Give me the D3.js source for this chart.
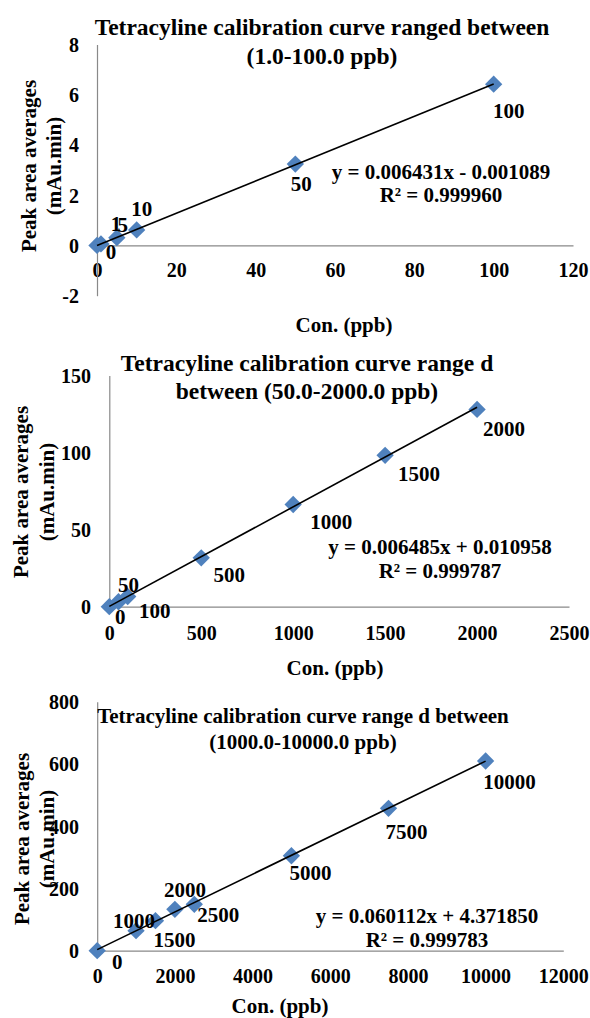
<!DOCTYPE html>
<html>
<head>
<meta charset="utf-8">
<script src="https://cdn.jsdelivr.net/npm/d3@7"></script>
<style>
  html, body { margin: 0; padding: 0; background: #fff; }
  svg { display: block; }
  text { font-family: "Liberation Serif", "Times New Roman", serif; font-weight: bold; fill: #000; }
</style>
</head>
<body>
<svg id="chart" width="590" height="1018"></svg>
<script>
// ---------- Data ----------
const yAxisTitle1 = "Peak area averages";
const yAxisTitle2 = "(mAu.min)";
const xAxisTitle = "Con. (ppb)";

// Chart 1
const c1Title = ["Tetracyline calibration curve ranged between", "(1.0-100.0 ppb)"];
const c1Conc = [0, 1, 5, 10, 50, 100];
const c1Area = [0, 0.06, 0.31, 0.62, 3.24, 6.42];
const c1Labels = ["0", "1", "5", "10", "50", "100"];
const c1XTicks = [0, 20, 40, 60, 80, 100, 120];
const c1YTicks = [-2, 0, 2, 4, 6, 8];
const c1Equation = ["y = 0.006431x - 0.001089", "R² = 0.999960"];

// Chart 2
const c2Title = ["Tetracyline calibration curve range d", "between (50.0-2000.0 ppb)"];
const c2Conc = [0, 50, 100, 500, 1000, 1500, 2000];
const c2Area = [0, 3.2, 6.6, 31.7, 66.3, 98.2, 128.0];
const c2Labels = ["0", "50", "100", "500", "1000", "1500", "2000"];
const c2XTicks = [0, 500, 1000, 1500, 2000, 2500];
const c2YTicks = [0, 50, 100, 150];
const c2Equation = ["y = 0.006485x + 0.010958", "R² = 0.999787"];

// Chart 3
const c3Title = ["Tetracyline calibration curve range d between", "(1000.0-10000.0 ppb)"];
const c3Conc = [0, 1000, 1500, 2000, 2500, 5000, 7500, 10000];
const c3Area = [0, 64.3, 96.4, 133, 149, 305, 457.5, 609.5];
const c3Labels = ["0", "1000", "1500", "2000", "2500", "5000", "7500", "10000"];
const c3XTicks = [0, 2000, 4000, 6000, 8000, 10000, 12000];
const c3YTicks = [0, 200, 400, 600, 800];
const c3Equation = ["y = 0.060112x + 4.371850", "R² = 0.999783"];

// ---------- Layout (positions / styles) ----------
const layouts = [
  {
    xDomain: [0, 120], xRange: [97, 573],
    yDomain: [-2, 8], yRange: [295.7, 44.5],
    title: { x: 322, y: [27, 56], size: 23.5 },
    eq: { x: 441, y: [172, 195] },
    yTitle: { x: [28.5, 53.5], y: 166 },
    xTitle: { x: 344, y: 325 },
    yTickRight: 79, xTickY: 270,
    labelOffsets: [[14, 6], [15, -20], [6, -13], [5, -21], [6, 20], [15, 26]]
  },
  {
    xDomain: [0, 2500], xRange: [109.3, 569],
    yDomain: [0, 150], yRange: [606.7, 375.5],
    title: { x: 307, y: [363, 391], size: 23.5 },
    eq: { x: 440, y: [547, 571] },
    yTitle: { x: [20.7, 47], y: 492 },
    xTitle: { x: 335, y: 668 },
    yTickRight: 91, xTickY: 633,
    labelOffsets: [[11, 10], [10, -17], [27, 14], [28, 17], [38, 17], [34, 18], [27, 19]]
  },
  {
    xDomain: [0, 12000], xRange: [97.2, 563.3],
    yDomain: [0, 800], yRange: [950.7, 701.7],
    title: { x: 303, y: [716, 742], size: 21 },
    eq: { x: 427, y: [916, 940] },
    yTitle: { x: [21.7, 46.7], y: 839 },
    xTitle: { x: 280, y: 1006 },
    yTickRight: 79, xTickY: 976,
    labelOffsets: [[20, 11], [-2, -10], [19, 19], [10, -20], [24, 10], [19, 17], [18, 23], [24, 21]]
  }
];

const charts = [
  { title: c1Title, conc: c1Conc, area: c1Area, labels: c1Labels, xTicks: c1XTicks, yTicks: c1YTicks, eq: c1Equation },
  { title: c2Title, conc: c2Conc, area: c2Area, labels: c2Labels, xTicks: c2XTicks, yTicks: c2YTicks, eq: c2Equation },
  { title: c3Title, conc: c3Conc, area: c3Area, labels: c3Labels, xTicks: c3XTicks, yTicks: c3YTicks, eq: c3Equation }
];

const svg = d3.select("#chart");
const axisColor = "#898989";
const markerColor = "#4F81BD";
const tickSize = 20, labelSize = 21, axisTitleSize = 21, eqSize = 21;
const plainFormat = d => String(d);

function linReg(xs, ys) {
  const mx = d3.mean(xs), my = d3.mean(ys);
  let num = 0, den = 0;
  xs.forEach((x, i) => { num += (x - mx) * (ys[i] - my); den += (x - mx) * (x - mx); });
  const m = num / den;
  return { m, b: my - m * mx };
}

charts.forEach((c, i) => {
  const L = layouts[i];
  const g = svg.append("g");
  const x = d3.scaleLinear().domain(L.xDomain).range(L.xRange);
  const y = d3.scaleLinear().domain(L.yDomain).range(L.yRange);

  // axes (Excel style: line only, no tick marks)
  const xAxis = d3.axisBottom(x).tickValues(c.xTicks).tickSize(0).tickPadding(0).tickFormat(plainFormat);
  const xg = g.append("g").attr("transform", `translate(0,${y(0)})`).call(xAxis);
  xg.select(".domain").attr("stroke", axisColor).attr("stroke-width", 1.2);
  xg.selectAll(".tick text")
    .attr("y", L.xTickY - y(0)).attr("dy", "0.35em")
    .style("font-size", tickSize + "px");

  const yAxis = d3.axisLeft(y).tickValues(c.yTicks).tickSize(0).tickPadding(0).tickFormat(plainFormat);
  const yg = g.append("g").attr("transform", `translate(${x(0)},0)`).call(yAxis);
  yg.select(".domain").attr("stroke", axisColor).attr("stroke-width", 1.2);
  yg.selectAll(".tick text")
    .attr("x", L.yTickRight - x(0)).attr("dy", "0.35em")
    .style("font-size", tickSize + "px");
  g.selectAll("g").attr("font-family", null).attr("font-size", null);
  g.selectAll(".tick text").attr("fill", "#000");

  // trend line
  const reg = linReg(c.conc, c.area);
  const xMin = d3.min(c.conc), xMax = d3.max(c.conc);
  const line = d3.line().x(d => x(d[0])).y(d => y(d[1]));

  // markers
  const pts = c.conc.map((v, k) => ({ cx: v, cy: c.area[k], label: c.labels[k], off: L.labelOffsets[k] }));
  g.selectAll("path.pt").data(pts).enter().append("path")
    .attr("class", "pt")
    .attr("d", d3.symbol().type(d3.symbolSquare).size(150))
    .attr("transform", d => `translate(${x(d.cx)},${y(d.cy)}) rotate(45)`)
    .attr("fill", markerColor);
  // trend line drawn over markers, as in Excel
  g.append("path")
    .datum([[xMin, reg.m * xMin + reg.b], [xMax, reg.m * xMax + reg.b]])
    .attr("d", line).attr("stroke", "#000").attr("stroke-width", 1.6).attr("fill", "none");

  // data labels
  g.selectAll("text.lbl").data(pts).enter().append("text")
    .attr("class", "lbl")
    .attr("x", d => x(d.cx) + d.off[0])
    .attr("y", d => y(d.cy) + d.off[1])
    .attr("dy", "0.35em")
    .attr("text-anchor", "middle")
    .style("font-size", labelSize + "px")
    .text(d => d.label);

  // title
  c.title.forEach((t, k) => {
    g.append("text").attr("x", L.title.x).attr("y", L.title.y[k]).attr("dy", "0.35em")
      .attr("text-anchor", "middle").style("font-size", L.title.size + "px").text(t);
  });

  // equation
  c.eq.forEach((t, k) => {
    g.append("text").attr("x", L.eq.x).attr("y", L.eq.y[k]).attr("dy", "0.35em")
      .attr("text-anchor", "middle").style("font-size", eqSize + "px").text(t);
  });

  // axis titles
  [yAxisTitle1, yAxisTitle2].forEach((t, k) => {
    g.append("text")
      .attr("transform", `translate(${L.yTitle.x[k]},${L.yTitle.y}) rotate(-90)`)
      .attr("dy", "0.35em").attr("text-anchor", "middle")
      .style("font-size", axisTitleSize + "px").text(t);
  });
  g.append("text").attr("x", L.xTitle.x).attr("y", L.xTitle.y).attr("dy", "0.35em")
    .attr("text-anchor", "middle").style("font-size", axisTitleSize + "px").text(xAxisTitle);
});
</script>
</body>
</html>
